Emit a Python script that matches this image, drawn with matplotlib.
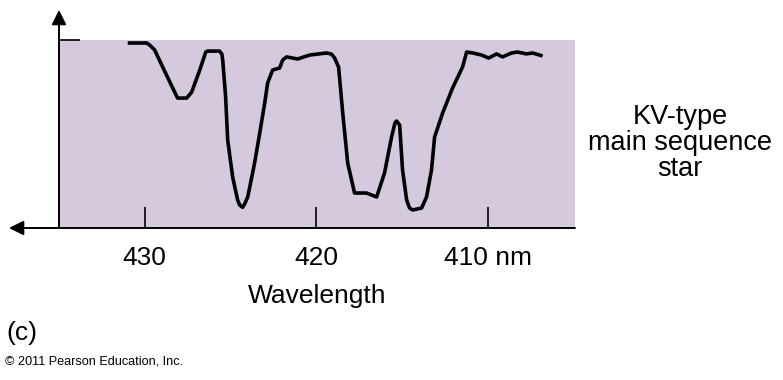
import matplotlib
matplotlib.use("Agg")
import matplotlib.pyplot as plt

plt.rcParams['font.family'] = ['Liberation Sans', 'DejaVu Sans']

# spectrum: wavelength (nm) and relative intensity
wavelength = [430.99, 429.88, 429.71, 429.42, 428.95, 428.37, 428.08, 427.55,
              427.26, 426.79, 426.44, 426.33, 425.63, 425.50, 425.45, 425.28,
              425.16, 424.87, 424.58, 424.46, 424.29, 424.17, 423.99, 423.59,
              423.29, 423.00, 422.83, 422.54, 422.13, 421.95, 421.72, 421.08,
              420.38, 419.39, 419.10, 418.92, 418.69, 418.45, 418.16, 417.76,
              417.06, 416.47, 416.01, 415.60, 415.40, 415.31, 415.13, 414.96,
              414.72, 414.55, 414.37, 413.85, 413.56, 413.27, 413.09, 412.62,
              412.04, 411.46, 411.22, 410.87, 410.35, 409.94, 409.47, 409.13,
              408.60, 408.25, 407.73, 407.38, 406.79]
intensity = [0.984, 0.984, 0.973, 0.947, 0.856, 0.745, 0.691, 0.691,
             0.723, 0.840, 0.936, 0.941, 0.941, 0.925, 0.894, 0.697,
             0.468, 0.271, 0.149, 0.122, 0.110, 0.128, 0.165, 0.346,
             0.505, 0.665, 0.771, 0.840, 0.851, 0.894, 0.910, 0.899,
             0.920, 0.931, 0.925, 0.904, 0.856, 0.612, 0.346, 0.186,
             0.186, 0.165, 0.293, 0.484, 0.560, 0.569, 0.548, 0.309,
             0.149, 0.106, 0.096, 0.106, 0.165, 0.309, 0.484, 0.612,
             0.745, 0.856, 0.936, 0.931, 0.920, 0.904, 0.926, 0.910,
             0.931, 0.936, 0.926, 0.931, 0.915]

tick_pos = [430, 420, 410]
tick_labels = ['430', '420', '410 nm']

fig = plt.figure(figsize=(7.83, 3.80), dpi=100)
ax = fig.add_axes([59/783, 152/380, 516/783, 188/380])
ax.set_facecolor('#d4c9dd')

ax.plot(wavelength, intensity, color='black', lw=2.6,
        solid_joinstyle='round', solid_capstyle='butt')

ax.set_xlim(435.0, 404.9)
ax.set_ylim(0, 1.0)

for s in ax.spines.values():
    s.set_visible(False)

ax.set_xticks(tick_pos)
ax.set_xticklabels(tick_labels, fontsize=19)
ax.set_yticks([1.0])
ax.set_yticklabels([])
ax.tick_params(axis='both', direction='in', length=15, width=1.2, color='black')
ax.tick_params(axis='x', pad=13)
ax.set_xlabel('Wavelength', fontsize=19, labelpad=10)

# axis arrows
ax.annotate('', xy=(0, 1.16), xytext=(0, 0), xycoords='axes fraction',
            arrowprops=dict(arrowstyle='-|>', color='black', lw=1.4,
                            mutation_scale=22, shrinkA=0, shrinkB=0),
            annotation_clip=False)
ax.annotate('', xy=(-0.097, 0), xytext=(1.0, 0), xycoords='axes fraction',
            arrowprops=dict(arrowstyle='-|>', color='black', lw=1.4,
                            mutation_scale=22, shrinkA=0, shrinkB=0),
            annotation_clip=False)

fig.text(680/783, 1 - 143/380, 'KV-type\nmain sequence\nstar', fontsize=19.5,
         ha='center', va='center', linespacing=1.0)
fig.text(6/783, 1 - 333/380, '(c)', fontsize=19, ha='left', va='center')
fig.text(5/783, 1 - 362/380, '\u00a9 2011 Pearson Education, Inc.', fontsize=9.1,
         ha='left', va='center')

fig.savefig('out.png', dpi=100)
